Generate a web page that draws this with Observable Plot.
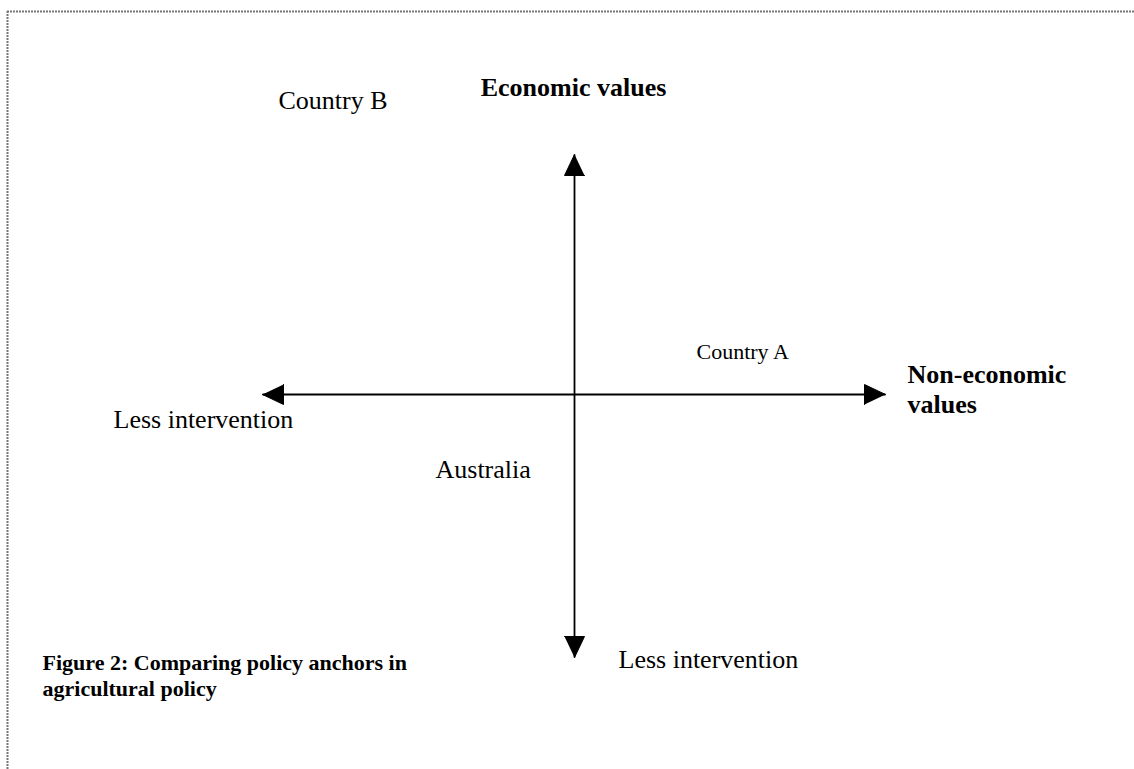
<!DOCTYPE html>
<html>
<head>
<meta charset="utf-8">
<script src="https://cdn.jsdelivr.net/npm/d3@7"></script>
<script src="https://cdn.jsdelivr.net/npm/@observablehq/plot@0.6"></script>
<style>
  html, body { margin: 0; padding: 0; background: #fff; overflow: hidden; }
  #chart svg { display: block; }
</style>
</head>
<body>
<div id="chart"></div>
<script>
// Conceptual policy space: origin at the axes crossing, units of the policy map
const axisLines = [
  {id: "vertical",   x1: 0,     y1: -26.3, x2: 0,    y2: 24.0},
  {id: "horizontal", x1: -31.2, y1: 0,     x2: 31.1, y2: 0}
];
const verticalTitle = [{text: "Economic values", x: -0.1, y: 29.9}];
const horizontalTitle = [{text: "Non-economic\nvalues", x: 33.3, y: -1.8}];
const interventionLabels = [
  {text: "Less intervention", x: -46.1, y: -3.3},
  {text: "Less intervention", x: 4.4,   y: -27.3}
];
const countries = ["Country B", "Country A", "Australia"];
const countryX = [-29.6, 12.2, -13.9];
const countryY = [28.6, 3.6, -8.3];
const countrySize = [26, 22, 26];
const captionLines = ["Figure 2: Comparing policy anchors in\nagricultural policy"];
const captionX = [-53.2];
const captionY = [-30.1];
const frameTop = [38.3];
const frameLeft = [-56.7];

const countryData = countries.map((c, i) => ({text: c, x: countryX[i], y: countryY[i], size: countrySize[i]}));
const captionData = captionLines.map((t, i) => ({text: t, x: captionX[i], y: captionY[i]}));

// Arrowhead triangles at both ends of each axis line
const headLen = 2.1, headHalf = 1.0;
const heads = axisLines.flatMap(a => {
  const out = [];
  [[a.x2, a.y2, a.x1, a.y1, "end"], [a.x1, a.y1, a.x2, a.y2, "start"]].forEach(([tx, ty, ox, oy, tag]) => {
    const dx = tx - ox, dy = ty - oy, L = Math.hypot(dx, dy);
    const ux = dx / L, uy = dy / L, px = -uy, py = ux;
    const bx = tx - ux * headLen, by = ty - uy * headLen;
    const z = a.id + tag;
    out.push({x: tx, y: ty, z});
    out.push({x: bx + px * headHalf, y: by + py * headHalf, z});
    out.push({x: bx - px * headHalf, y: by - py * headHalf, z});
  });
  return out;
});

const serif = "'Liberation Serif', 'Times New Roman', Times, serif";
const common = {x: "x", y: "y", text: "text", lineAnchor: "bottom", fontFamily: serif, fill: "#000"};

const chart = Plot.plot({
  width: 1134,
  height: 769,
  margin: 0,
  x: {domain: [-57.4, 56.0], axis: null},
  y: {domain: [-37.5, 39.4], axis: null},
  style: {background: "#fff", fontFamily: serif, color: "#000"},
  marks: [
    // dotted frame
    Plot.ruleY(frameTop, {x1: frameLeft[0], x2: 56.0, stroke: "#777", strokeWidth: 2, strokeDasharray: "2,1"}),
    Plot.ruleX(frameLeft, {y1: frameTop[0], y2: -37.5, stroke: "#777", strokeWidth: 2, strokeDasharray: "2,1"}),
    // axis shafts
    Plot.link(axisLines, {x1: "x1", y1: "y1", x2: "x2", y2: "y2", stroke: "#000", strokeWidth: 1.8}),
    // arrowheads
    Plot.line(heads, {x: "x", y: "y", z: "z", fill: "#000", stroke: "#000", strokeWidth: 1, strokeLinejoin: "miter"}),
    // axis titles
    Plot.text(verticalTitle, {...common, textAnchor: "middle", fontSize: 26, fontWeight: "bold"}),
    Plot.text(horizontalTitle, {...common, textAnchor: "start", fontSize: 26, fontWeight: "bold", lineHeight: 1.15}),
    Plot.text(interventionLabels, {...common, textAnchor: "start", fontSize: 26}),
    Plot.text(countryData.filter(d => d.size === 26), {...common, textAnchor: "start", fontSize: 26}),
    Plot.text(countryData.filter(d => d.size === 22), {...common, textAnchor: "start", fontSize: 22}),
    Plot.text(captionData, {...common, textAnchor: "start", fontSize: 22, fontWeight: "bold", lineHeight: 1.15})
  ]
});
document.getElementById("chart").appendChild(chart);
</script>
</body>
</html>
